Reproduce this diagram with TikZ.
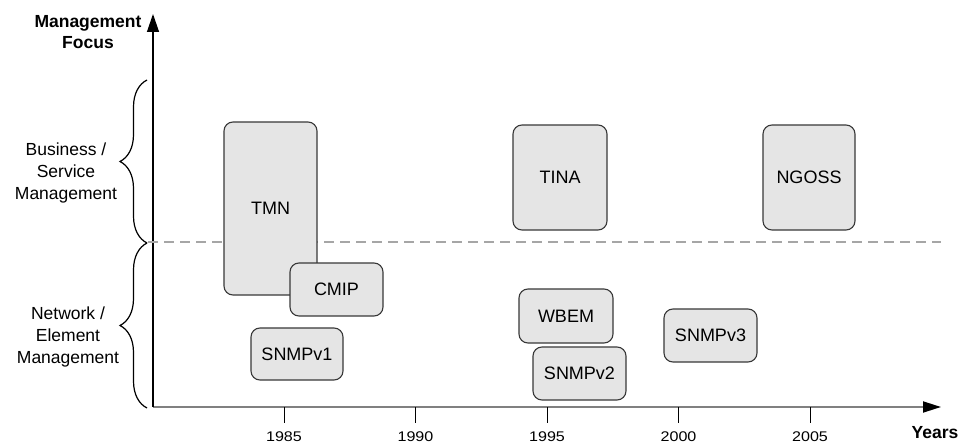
\documentclass[tikz,border=0pt]{standalone}
\usepackage{fontspec}
\setmainfont{Liberation Sans}
\usetikzlibrary{arrows.meta,decorations.pathreplacing}
\begin{document}
\begin{tikzpicture}[x=1pt,y=-1pt,
  every node/.style={inner sep=0pt, outer sep=0pt},
  stdbox/.style={draw=black!78, line width=1.1pt, fill=black!10, rounded corners=9pt,
    align=center, font=\fontsize{18}{21}\selectfont},
  sidelabel/.style={align=center, font=\fontsize{17.5}{22}\selectfont},
  axislabel/.style={align=center, font=\fontsize{17.5}{21}\selectfont\bfseries},
  yearlabel/.style={font=\fontsize{14}{16}\selectfont, xscale=1.15},
  bracestyle/.style={decorate, decoration={brace, amplitude=27pt}, line width=1.2pt},
  tickmark/.style={line width=0.9pt},
  separator/.style={draw=black!35, line width=1.1pt, dash pattern=on 10pt off 6pt}]

\useasboundingbox (0,0) rectangle (967,444);

% axes
\coordinate (origin) at (153,407);
\coordinate (ytop) at (153,14);
\coordinate (xend) at (941,407);
\draw[black!50, line width=1.8pt, -{Triangle[length=18pt,width=11pt,color=black]}] (origin) -- (xend);
\draw[black, line width=1.3pt, -{Triangle[length=18pt,width=12pt]}] (origin) -- (ytop);

\node[axislabel] (focus) at (88,32) {Management\\Focus};
\node[axislabel] (years) at (935,433) {Years};

% year ticks
\foreach \yr/\xx in {1985/284, 1990/415.5, 1995/547, 2000/678.5, 2005/810} {
  \coordinate (t\yr) at (\xx,407);
  \coordinate (b\yr) at (\xx,423);
  \draw[tickmark] (t\yr) -- (b\yr);
  \node[yearlabel] (y\yr) at (\xx,437) {\yr};
}

% layer separator
\coordinate (sepL) at (148,242);
\coordinate (sepR) at (941,242);
\draw[separator] (sepL) -- (sepR);

% layer braces
\coordinate (bmid) at (147,243);
\coordinate (btop) at (147,80);
\coordinate (bbot) at (147,408);
\draw[bracestyle] (bmid) -- (btop);
\draw[bracestyle] (bbot) -- (bmid);

\node[sidelabel] (business) at (66,173) {Business /\\Service\\Management};
\node[sidelabel] (network) at (68,337) {Network /\\Element\\Management};

% standards
\node[stdbox, minimum width=93pt, minimum height=173pt] (tmn) at (270.5,208.5) {TMN};
\node[stdbox, minimum width=93pt, minimum height=53pt] (cmip) at (336.5,289.5) {CMIP};
\node[stdbox, minimum width=92pt, minimum height=52pt] (snmpv1) at (297,354) {SNMPv1};
\node[stdbox, minimum width=94pt, minimum height=105pt] (tina) at (560,177.5) {TINA};
\node[stdbox, minimum width=92pt, minimum height=105pt] (ngoss) at (809,177.5) {NGOSS};
\node[stdbox, minimum width=94pt, minimum height=54pt] (wbem) at (566,316) {WBEM};
\node[stdbox, minimum width=93pt, minimum height=53pt] (snmpv2) at (579.5,373.5) {SNMPv2};
\node[stdbox, minimum width=93pt, minimum height=53pt] (snmpv3) at (710.5,335.5) {SNMPv3};

\end{tikzpicture}
\end{document}
